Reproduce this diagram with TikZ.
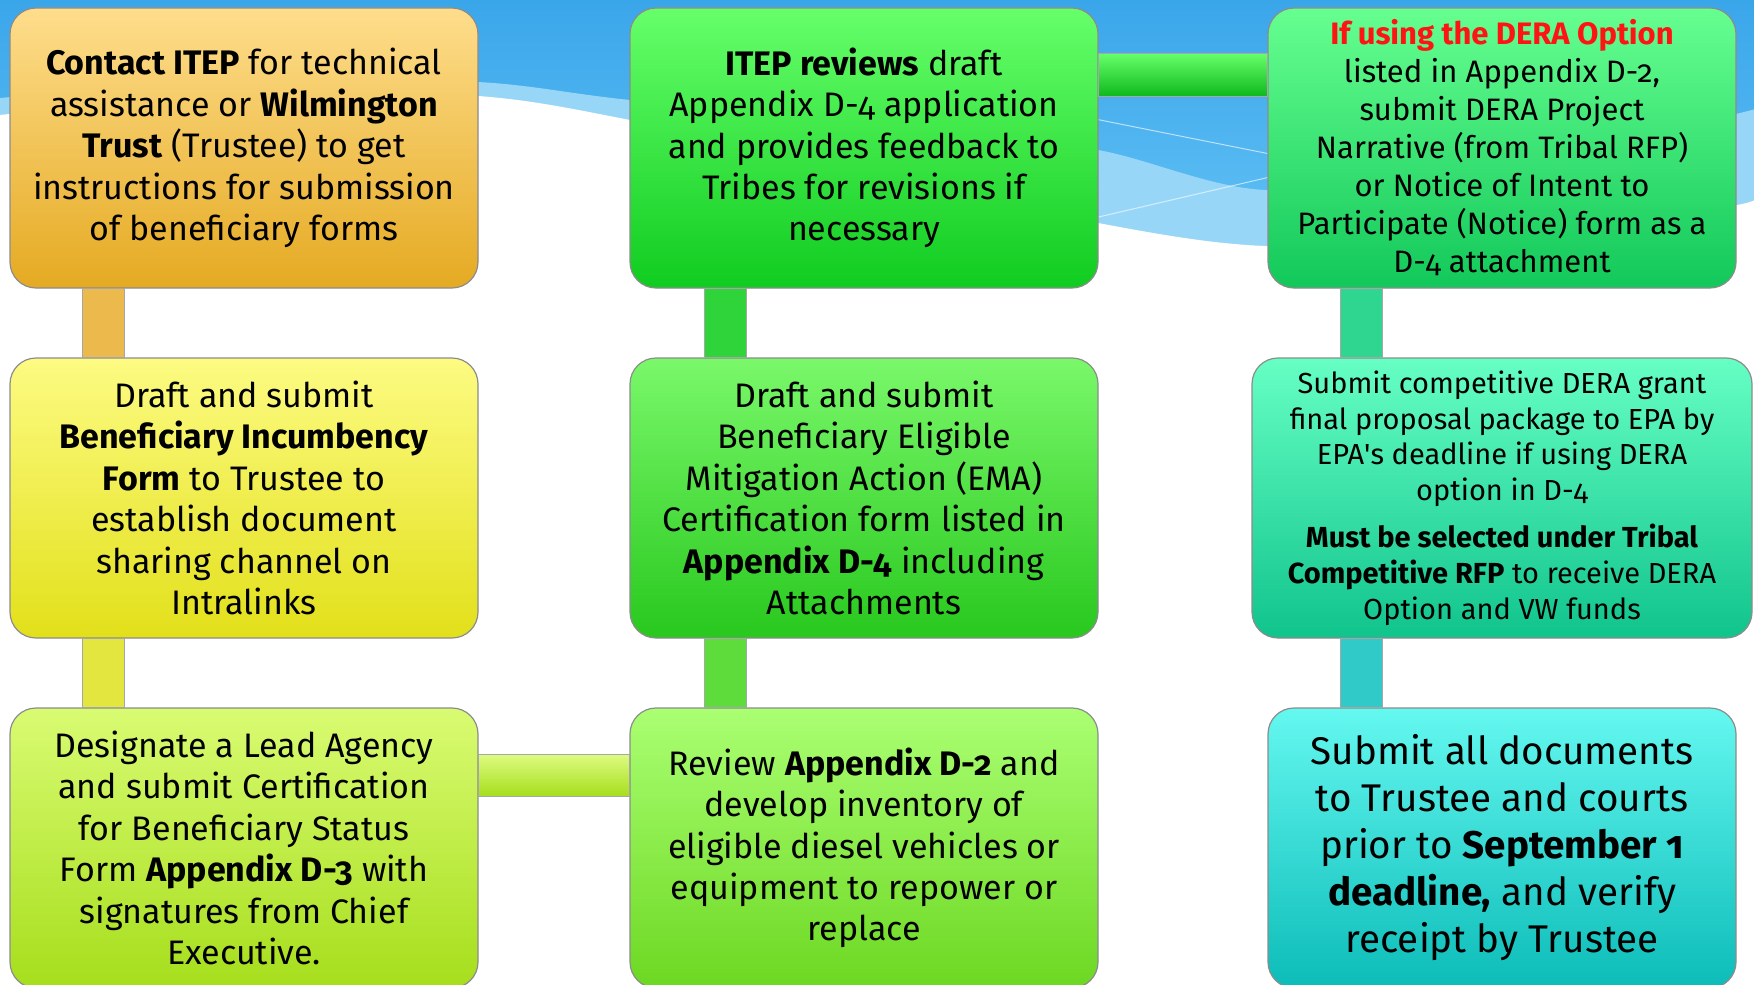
\documentclass[tikz,border=0pt]{standalone}
\usepackage{fontspec}
\setmainfont{Fira Sans}[Numbers=OldStyle]
\usetikzlibrary{calc}
\definecolor{skyA}{HTML}{3AA6EA}
\definecolor{skyB}{HTML}{66C4F6}
\definecolor{bandC}{HTML}{98D6F8}
\definecolor{aT}{HTML}{FEDD8C}\definecolor{aB}{HTML}{E5AA22}
\definecolor{bT}{HTML}{FDFB82}\definecolor{bB}{HTML}{E2E01A}
\definecolor{cT}{HTML}{D9FB72}\definecolor{cB}{HTML}{A6DE1C}
\definecolor{dT}{HTML}{66FF6A}\definecolor{dB}{HTML}{10CC20}
\definecolor{eT}{HTML}{7AF86A}\definecolor{eB}{HTML}{28C81E}
\definecolor{fT}{HTML}{AAFF72}\definecolor{fB}{HTML}{6CD822}
\definecolor{gT}{HTML}{66FF90}\definecolor{gB}{HTML}{12C85A}
\definecolor{hT}{HTML}{66FFC4}\definecolor{hB}{HTML}{10C48C}
\definecolor{iT}{HTML}{64F8F0}\definecolor{iB}{HTML}{0CBCB8}
\definecolor{barAB}{HTML}{EBB94C}
\definecolor{barBC}{HTML}{E2E63E}
\definecolor{barDE}{HTML}{2ED43A}
\definecolor{barEF}{HTML}{5EDC3C}
\definecolor{barGH}{HTML}{2ED690}
\definecolor{barHI}{HTML}{30CAC8}
\definecolor{redtxt}{HTML}{FF1414}
\begin{document}
\begin{tikzpicture}[x=0.5pt,y=-0.5pt,
  stepbox/.style={rectangle, rounded corners=13pt, draw=black!45, line width=0.6pt,
    minimum width=234pt, minimum height=140pt, align=center, inner sep=0pt,
    font=\fontsize{17}{20.7}\selectfont},
  barline/.style={draw=black!35, line width=0.4pt}]
\useasboundingbox (0,0) rectangle (1754,984);
\clip (0,0) rectangle (1754,984);
% background sky
\fill[top color=skyA, bottom color=skyB] (0,0) rectangle (1754,280);
\fill[bandC] plot[smooth] coordinates {(0,98) (250,80) (478,82) (630,100) (900,125) (1098,150) (1265,190) (1500,170) (1740,113) (1754,108)}
  -- (1754,280) -- (0,280) -- cycle;
\draw[white, opacity=0.6, line width=0.5pt] (1000,100) -- (1300,160);
\draw[white, opacity=0.6, line width=0.5pt] (1000,240) -- (1300,170);
\fill[white] plot[smooth] coordinates {(0,115) (250,92) (478,96) (630,120) (900,178) (1098,223) (1265,246) (1500,238) (1737,205) (1754,192)}
  -- (1754,290) -- (0,290) -- cycle;
\fill[white] (0,280) rectangle (1754,984);
% boxes
\node[stepbox, top color=aT, bottom color=aB] (A) at (244,148) {\textbf{Contact ITEP} for technical\\assistance or \textbf{Wilmington}\\\textbf{Trust} (Trustee) to get\\instructions for submission\\of beneficiary forms};
\node[stepbox, top color=bT, bottom color=bB] (B) at (244,498) {Draft and submit\\\textbf{Beneficiary Incumbency}\\\textbf{Form} to Trustee to\\establish document\\sharing channel on\\Intralinks};
\node[stepbox, top color=cT, bottom color=cB] (C) at (244,848) {Designate a Lead Agency\\and submit Certification\\for Beneficiary Status\\Form \textbf{Appendix D-3} with\\signatures from Chief\\Executive.};
\node[stepbox, top color=dT, bottom color=dB] (D) at (864,148) {\textbf{ITEP reviews} draft\\Appendix D-4 application\\and provides feedback to\\Tribes for revisions if\\necessary};
\node[stepbox, top color=eT, bottom color=eB] (E) at (864,498) {Draft and submit\\Beneficiary Eligible\\Mitigation Action (EMA)\\Certification form listed in\\\textbf{Appendix D-4} including\\Attachments};
\node[stepbox, top color=fT, bottom color=fB] (F) at (864,848) {Review \textbf{Appendix D-2} and\\develop inventory of\\eligible diesel vehicles or\\equipment to repower or\\replace};
\node[stepbox, top color=gT, bottom color=gB, font=\fontsize{15.5}{19}\selectfont] (G) at (1502,148) {{\color{redtxt}\textbf{If using the DERA Option}}\\listed in Appendix D-2,\\submit DERA Project\\Narrative (from Tribal RFP)\\or Notice of Intent to\\Participate (Notice) form as a\\D-4 attachment};
\node[stepbox, top color=hT, bottom color=hB, minimum width=250pt, font=\fontsize{14.5}{17.9}\selectfont] (H) at (1502,498) {Submit competitive DERA grant\\final proposal package to EPA by\\EPA\textquotesingle s deadline if using DERA\\option in D-4\\[5.5pt]\textbf{Must be selected under Tribal}\\\textbf{Competitive RFP} to receive DERA\\Option and VW funds};
\node[stepbox, top color=iT, bottom color=iB, font=\fontsize{19.3}{23.5}\selectfont] (I) at (1502,848) {Submit all documents\\to Trustee and courts\\prior to \textbf{September 1}\\\textbf{deadline,} and verify\\receipt by Trustee};
% connectors
\path[barline, fill=barAB] ($(A.south west)+(73,0)$) rectangle ($(B.north west)+(115,0)$);
\path[barline, fill=barBC] ($(B.south west)+(73,0)$) rectangle ($(C.north west)+(115,0)$);
\path[barline, fill=barDE] ($(D.south west)+(75,0)$) rectangle ($(E.north west)+(117,0)$);
\path[barline, fill=barEF] ($(E.south west)+(75,0)$) rectangle ($(F.north west)+(117,0)$);
\path[barline, fill=barGH] ($(G.south west)+(73,0)$) rectangle ($(H.north west)+(131,0)$);
\path[barline, fill=barHI] ($(H.south west)+(89,0)$) rectangle ($(I.north west)+(115,0)$);
\path[barline, top color=dT, bottom color=dB!90!black] ($(D.north east)+(0,46)$) rectangle ($(G.north west)+(0,89)$);
\path[barline, top color=cT!90!white, bottom color=cB] ($(C.north east)+(0,47)$) rectangle ($(F.north west)+(0,89)$);
\end{tikzpicture}
\end{document}
